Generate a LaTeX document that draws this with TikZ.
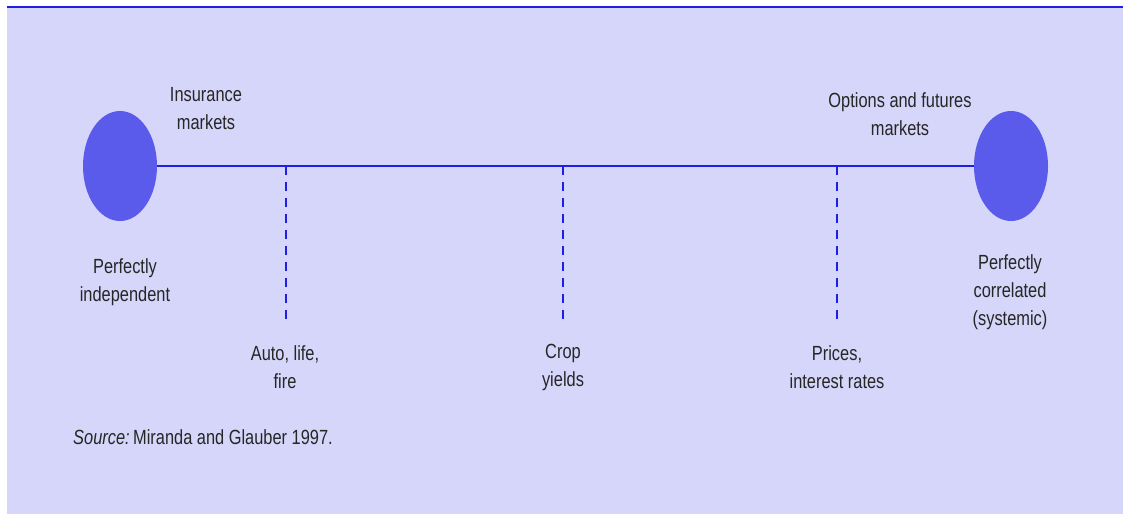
\documentclass[tikz,border=0pt]{standalone}
\usetikzlibrary{shapes.geometric}
\usepackage{fontspec}
\setmainfont[FakeStretch=0.8]{Liberation Sans}
\definecolor{bgc}{RGB}{214,214,250}
\definecolor{linec}{RGB}{30,30,230}
\definecolor{dotc}{RGB}{90,90,235}
\begin{document}
\begin{tikzpicture}[x=1pt,y=-1pt,
  lbl/.style={align=center,font=\fontsize{20.5}{28}\selectfont,inner sep=0pt,text=black!85},
  blob/.style={ellipse,fill=dotc,minimum width=74pt,minimum height=110pt,inner sep=0pt},
  tick/.style={draw=linec,line width=1.3pt,dash pattern=on 9pt off 7pt}]
\useasboundingbox (0,0) rectangle (1123,514);
\fill[white] (0,0) rectangle (1123,514);
\fill[bgc] (7,7) rectangle (1123,514);
\draw[linec,line width=2pt] (7,7) -- (1123,7);
\node[blob] (L) at (120,166) {};
\node[blob] (R) at (1011,166) {};
\draw[linec,line width=2pt] (L.east) -- (R.west);
\coordinate (t1) at (286,166); \coordinate (b1) at (286,322);
\coordinate (t2) at (563,166); \coordinate (b2) at (563,322);
\coordinate (t3) at (837,166); \coordinate (b3) at (837,322);
\draw[tick] (t1) -- (b1);
\draw[tick] (t2) -- (b2);
\draw[tick] (t3) -- (b3);
\node[lbl] (ins) at (206,109) {Insurance\\markets};
\node[lbl] (opt) at (900,114) {Options and futures\\markets};
\node[lbl] (pi) at (125,282) {Perfectly\\independent};
\node[lbl] (pc) at (1010,292) {Perfectly\\correlated\\(systemic)};
\node[lbl] (a) at (285,367) {Auto, life,\\fire};
\node[lbl] (c) at (563,367) {Crop\\yields};
\node[lbl] (p) at (837,367) {Prices,\\interest rates};
\node[lbl,anchor=west] (src) at (73,437) {\textit{Source:}\,Miranda and Glauber 1997.};
\end{tikzpicture}
\end{document}
